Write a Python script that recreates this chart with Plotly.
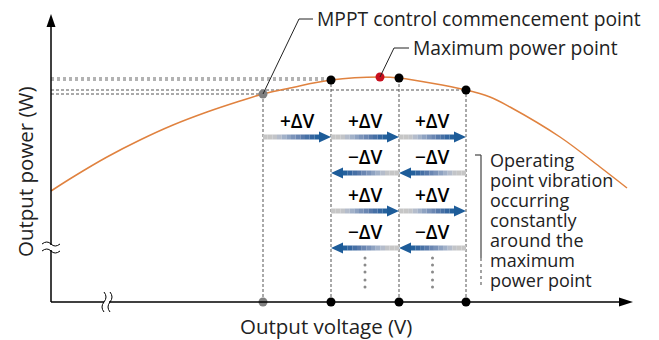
import plotly.graph_objects as go

# Curva P-V (unidades arbitrarias)
curve_v = [0, 22, 56, 89, 122, 156, 189, 212, 239, 280, 329, 348, 415, 439, 459, 509, 549, 576]
curve_p = [111, 125, 145, 162, 177, 190, 201, 208, 214, 222, 225, 224, 212, 205, 195, 165, 135, 114]

# Puntos de operación (índices dentro de la curva)
start_idx = 7          # inicio del control MPPT
mpp_idx = 10           # punto de máxima potencia
osc_idx = [9, 11, 12]  # puntos de oscilación

# Filas de flechas: (nivel, dirección, pares de índices)
arrow_rows = [
    (165, "+", [(7, 9), (9, 11), (11, 12)]),
    (129, "-", [(11, 9), (12, 11)]),
    (91, "+", [(9, 11), (11, 12)]),
    (54, "-", [(11, 9), (12, 11)]),
]

note_lines = ["Operating", "point vibration", "occurring", "constantly",
              "around the", "maximum", "power point"]

FONT = "Open Sans"
ORANGE = "#e0823f"
BLUE = "#1d5c99"
GRAD = ["#c6c6c6", "#c6c6c6", "#c2c4c8", "#b4bccb", "#a2b1c8", "#8ea2c1",
        "#7b93b9", "#6a86b2", "#5779aa", "#4670a5", "#3466a0", "#24609c"]

fig = go.Figure()
shapes = []
annotations = []

def dash_line(x0, y0, x1, y1, color="#555555", width=1, dash="dash"):
    shapes.append(dict(type="line", x0=x0, y0=y0, x1=x1, y1=y1, layer="below",
                       line=dict(color=color, width=width, dash=dash)))

a, b, c, d = osc_idx[0], osc_idx[1], osc_idx[2], start_idx

# líneas horizontales punteadas
dash_line(0, curve_p[b], curve_v[a], curve_p[b], color="#9a9a9a", width=1.6, dash="dot")
dash_line(0, curve_p[a], curve_v[a], curve_p[a], color="#9a9a9a", width=1.6, dash="dot")
dash_line(0, curve_p[c], curve_v[c], curve_p[c], dash="3px,2px")
dash_line(0, curve_p[d], curve_v[d], curve_p[d], dash="3px,2px")
# líneas verticales punteadas
for i in [d, a, b, c]:
    dash_line(curve_v[i], 0, curve_v[i], curve_p[i], dash="3px,2px")

# ejes
shapes.append(dict(type="line", x0=0, y0=0, x1=0, y1=276, line=dict(color="black", width=1.5)))
shapes.append(dict(type="line", x0=0, y0=0, x1=570, y1=0, line=dict(color="black", width=1.5)))
shapes.append(dict(type="path", path="M -4.5 275 L 4.5 275 L 0 288 Z",
                   fillcolor="black", line=dict(width=0)))
shapes.append(dict(type="path", path="M 568 -4.5 L 568 4.5 L 582 0 Z",
                   fillcolor="black", line=dict(width=0)))
# cortes de eje
shapes.append(dict(type="rect", x0=-3, y0=52, x1=3, y1=57, fillcolor="white", line=dict(width=0)))
shapes.append(dict(type="path", path="M -9 58 Q -4 62 0 58 Q 4 54 9 58",
                   line=dict(color="black", width=1)))
shapes.append(dict(type="path", path="M -9 51 Q -4 55 0 51 Q 4 47 9 51",
                   line=dict(color="black", width=1)))
shapes.append(dict(type="rect", x0=53, y0=-3, x1=58, y1=3, fillcolor="white", line=dict(width=0)))
shapes.append(dict(type="path", path="M 53 -10 Q 49 -5 53 0 Q 57 5 53 10",
                   line=dict(color="black", width=1)))
shapes.append(dict(type="path", path="M 59 -10 Q 55 -5 59 0 Q 63 5 59 10",
                   line=dict(color="black", width=1)))

# flechas con degradado
def arrow(v0, v1, y):
    n = len(GRAD)
    head = 12
    sign = 1 if v1 > v0 else -1
    body_end = v1 - sign * head
    step = (body_end - v0) / n
    for k in range(n):
        x0 = v0 + step * k
        x1 = v0 + step * (k + 1)
        shapes.append(dict(type="rect", x0=min(x0, x1), x1=max(x0, x1), y0=y - 2.5, y1=y + 2.5,
                           fillcolor=GRAD[k], line=dict(width=0)))
    shapes.append(dict(type="path",
                       path=f"M {body_end} {y - 5.5} L {body_end} {y + 5.5} L {v1} {y} Z",
                       fillcolor=BLUE, line=dict(width=0)))

for y, sgn, pairs in arrow_rows:
    for i0, i1 in pairs:
        v0, v1 = curve_v[i0], curve_v[i1]
        arrow(v0, v1, y)
        annotations.append(dict(x=(v0 + v1) / 2, y=y + 16, text=("+ΔV" if sgn == "+" else "−ΔV"),
                                showarrow=False, font=dict(family=FONT, size=19, color="black", weight=600)))

# puntos suspensivos verticales
for i0, i1 in [(a, b), (b, c)]:
    xm = (curve_v[i0] + curve_v[i1]) / 2
    fig.add_trace(go.Scatter(x=[xm] * 5, y=[44, 37, 30, 22, 15], mode="markers",
                             marker=dict(color="#8a8a8a", size=3), hoverinfo="skip"))

# corchete
shapes.append(dict(type="line", x0=424, y0=147, x1=430, y1=147, line=dict(color="#444", width=1.2)))
shapes.append(dict(type="line", x0=430, y0=147, x1=430, y1=44, line=dict(color="#444", width=1.2)))
shapes.append(dict(type="line", x0=430, y0=44, x1=430, y1=15, line=dict(color="#666", width=1.2, dash="dot")))
for k, t in enumerate(note_lines):
    annotations.append(dict(x=438, y=142 - 20 * k, text=t, xanchor="left", showarrow=False,
                            borderpad=0, font=dict(family=FONT, size=18, color="#222")))

# curva
fig.add_trace(go.Scatter(x=curve_v, y=curve_p, mode="lines", line=dict(color=ORANGE, width=1.5, shape="spline"),
                         hoverinfo="skip"))

# puntos
fig.add_trace(go.Scatter(x=[curve_v[start_idx], curve_v[start_idx]], y=[curve_p[start_idx], 0], mode="markers",
                         marker=dict(color="#808080", size=9), hoverinfo="skip"))
fig.add_trace(go.Scatter(x=[curve_v[i] for i in osc_idx] * 2,
                         y=[curve_p[i] for i in osc_idx] + [0] * 3, mode="markers",
                         marker=dict(color="black", size=9), hoverinfo="skip"))
fig.add_trace(go.Scatter(x=[curve_v[mpp_idx]], y=[curve_p[mpp_idx]], mode="markers",
                         marker=dict(color="#c8101e", size=9), hoverinfo="skip"))

# líneas guía de las etiquetas
fig.add_trace(go.Scatter(x=[curve_v[start_idx], 248, 262], y=[curve_p[start_idx], 283, 283], mode="lines",
                         line=dict(color="#222", width=1), hoverinfo="skip"))
fig.add_trace(go.Scatter(x=[curve_v[mpp_idx], 343, 358], y=[curve_p[mpp_idx], 254, 254], mode="lines",
                         line=dict(color="#222", width=1), hoverinfo="skip"))
annotations.append(dict(x=264, y=284, text="MPPT control commencement point", xanchor="left", showarrow=False,
                        font=dict(family=FONT, size=19.3, color="#222")))
annotations.append(dict(x=360, y=255, text="Maximum power point", xanchor="left", showarrow=False,
                        font=dict(family=FONT, size=19.3, color="#222")))

# títulos de ejes
annotations.append(dict(x=275, y=-24, text="Output voltage (V)", showarrow=False,
                        font=dict(family=FONT, size=20.5, color="#222")))
annotations.append(dict(x=-26, y=130, text="Output power (W)", textangle=-90, showarrow=False,
                        font=dict(family=FONT, size=20.5, color="#222")))

# la página añade 8 px de margen: se compensa en los rangos
fig.update_layout(
    width=659, height=340,
    margin=dict(l=0, r=0, t=0, b=0),
    plot_bgcolor="white", paper_bgcolor="white",
    showlegend=False,
    shapes=shapes, annotations=annotations,
    xaxis=dict(range=[-43, 616], visible=False, fixedrange=True),
    yaxis=dict(range=[-46, 294], visible=False, fixedrange=True),
)

fig.write_html("out.html")
